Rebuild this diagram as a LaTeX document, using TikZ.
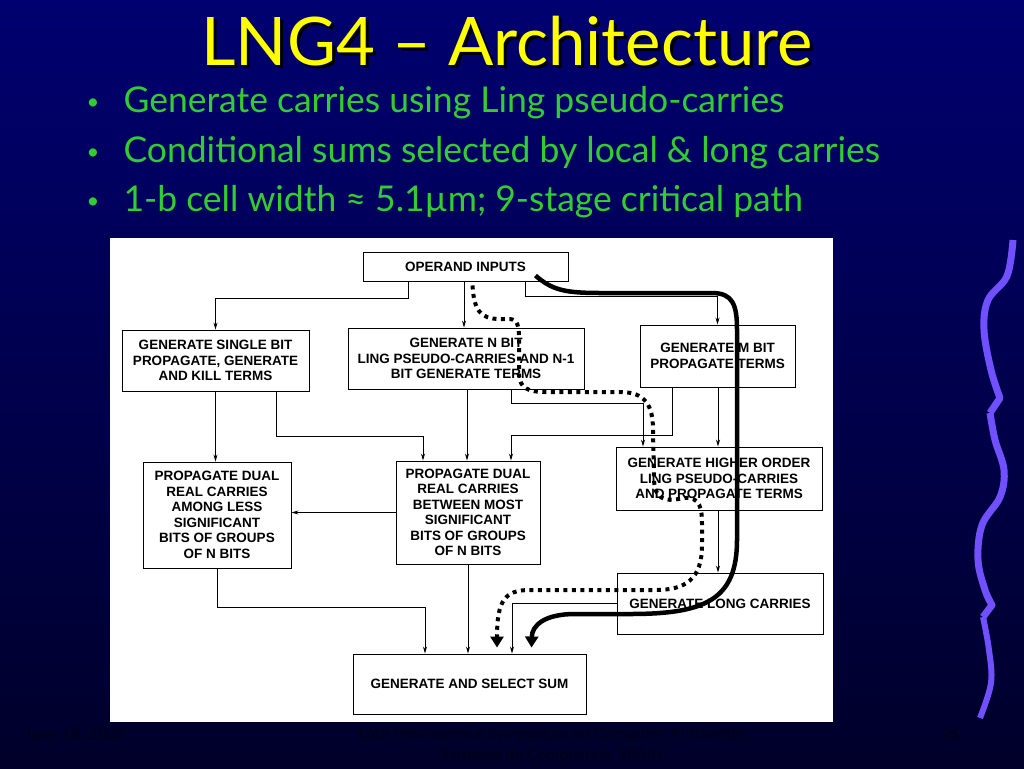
\documentclass[tikz,border=0pt]{standalone}
\usepackage{fontspec}
\setmainfont{Liberation Sans}
\newfontfamily\slidefont{Lato}
\usetikzlibrary{arrows.meta,calc}
\definecolor{bgtop}{RGB}{0,0,112}
\definecolor{bgbot}{RGB}{0,0,42}
\definecolor{titley}{RGB}{255,255,0}
\definecolor{bulletg}{RGB}{51,204,51}
\definecolor{footc}{RGB}{0,0,24}
\definecolor{squig}{RGB}{112,80,255}
\newcommand\diag{\fontsize{13.5}{15.5}\selectfont\bfseries}
\newcommand\bul{\slidefont\fontsize{35.5}{38}\selectfont}
\begin{document}
\begin{tikzpicture}[x=1pt,y=-1pt,
  blk/.style={draw,line width=0.9pt,align=center,font=\diag,inner sep=0pt},
  conn/.style={line width=0.9pt,-{Stealth[length=7pt,width=4pt]}},
  crit/.style={line width=4.5pt,-{Triangle[length=11pt,width=13pt]}},
  dots/.style={line width=4pt,dash pattern=on 4pt off 4.5pt,-{Triangle[length=11pt,width=13pt]}},
  bdot/.style={text=bulletg,font=\slidefont\fontsize{22}{24}\selectfont}]
\shade[top color=bgtop,bottom color=bgbot] (0,0) rectangle (1024,768);
\useasboundingbox (0,0) rectangle (1024,768);
\node[font=\slidefont\fontsize{67}{70}\selectfont,text=black] (titleshadow) at (510,44) {LNG4 – Architecture};
\node[font=\slidefont\fontsize{67}{70}\selectfont,text=titley] (title) at (507,41) {LNG4 – Architecture};
\node[bdot] (dot1) at (93,104) {•};
\node[bdot] (dot2) at (93,154) {•};
\node[bdot] (dot3) at (93,203) {•};
\node[text=bulletg,font=\bul,anchor=west] (b1) at (120,103) {Generate carries using Ling pseudo-carries};
\node[text=bulletg,font=\bul,anchor=west] (b2) at (120,153) {Conditional sums selected by local \& long carries};
\node[text=bulletg,font=\bul,anchor=west] (b3) at (120,202) {1-b cell width ≈ 5.1µm; 9-stage critical path};
\fill[white] (110,238) rectangle (833,722);
\node[blk,minimum width=205pt,minimum height=29pt] (opin) at (465.5,266.5) {OPERAND INPUTS};
\node[blk,minimum width=187pt,minimum height=61pt] (gsb) at (215.5,360.5) {GENERATE SINGLE BIT\\PROPAGATE, GENERATE\\AND KILL TERMS};
\node[blk,minimum width=236pt,minimum height=61pt] (gnb) at (466,358.5) {GENERATE N BIT\\LING PSEUDO-CARRIES AND N-1\\BIT GENERATE TERMS};
\node[blk,minimum width=155pt,minimum height=62pt] (gmb) at (717.5,356) {GENERATE M BIT\\PROPAGATE TERMS};
\node[blk,minimum width=148pt,minimum height=106pt] (pdl) at (217,515) {PROPAGATE DUAL\\REAL CARRIES\\AMONG LESS\\SIGNIFICANT\\BITS OF GROUPS\\OF N BITS};
\node[blk,minimum width=144pt,minimum height=103pt] (pdm) at (468,512.5) {PROPAGATE DUAL\\REAL CARRIES\\BETWEEN MOST\\SIGNIFICANT\\BITS OF GROUPS\\OF N BITS};
\node[blk,minimum width=206pt,minimum height=63pt] (gho) at (719,478.5) {GENERATE HIGHER ORDER\\LING PSEUDO-CARRIES\\AND PROPAGATE TERMS};
\node[blk,minimum width=206pt,minimum height=61pt] (glc) at (720,603.5) {GENERATE LONG CARRIES};
\node[blk,minimum width=233pt,minimum height=60pt] (gss) at (469.5,684) {GENERATE AND SELECT SUM};
\draw[conn] (opin.south -| 408,0) |- (0,298 -| gsb.north) -- (gsb.north);
\draw[conn] (opin.south -| 464,0) -- (gnb.north -| 464,0);
\draw[conn] (opin.south -| 525,0) |- (gmb.north |- 0,296) -- (gmb.north);
\draw[conn] (gsb.south) -- (gsb.south |- pdl.north);
\draw[conn] (gsb.south -| 276,0) |- (423,436) -- (pdm.north -| 423,0);
\draw[conn] (gnb.south -| 467,0) -- (pdm.north -| 467,0);
\draw[conn] (gmb.south -| 672,0) |- (511,435) -- (pdm.north -| 511,0);
\draw[conn] (gnb.south -| 511,0) |- (643,403) -- (gho.north -| 643,0);
\draw[conn] (gmb.south -| 718,0) -- (gho.north -| 718,0);
\draw[conn] (gho.south -| 718,0) -- (glc.north -| 718,0);
\draw[conn] (pdm.west) -- (pdm.west -| pdl.east);
\draw[conn] (pdm.south) -- (gss.north -| pdm.south);
\draw[conn] (pdl.south) |- (425,607) -- (gss.north -| 425,0);
\draw[conn] (glc.west) -| (gss.north -| 512,0);
\coordinate (solidstart) at ($(opin.north east)+(-33,24)$);
\coordinate (dotstart) at ($(opin.south)+(7,4)$);
\draw[crit] (solidstart) .. controls (552,290) and (565,293) .. (600,293) -- (712,293)
  .. controls (733,293) and (737,305) .. (737,330) -- (737,540)
  .. controls (737,600) and (705,614) .. (630,614) -- (575,614)
  .. controls (545,614) and (532,625) .. ($(gss.north)+(62,-6)$);
\draw[dots] (dotstart) .. controls (474,310) and (480,319) .. (500,319) -- (510,319)
  .. controls (518,320) and (519,326) .. (519,340) -- (519,375)
  .. controls (520,388) and (528,392) .. (545,392) -- (620,392)
  .. controls (645,392) and (653,405) .. (653,430) -- (654,480)
  .. controls (655,505) and (672,500) .. (685,498)
  .. controls (700,497) and (702,508) .. (702,525) -- (702,545)
  .. controls (702,580) and (685,590) .. (655,590) -- (530,590)
  .. controls (505,590) and (497,600) .. ($(gss.north)+(27.5,-6)$);
\draw[squig,line width=7pt,line join=round] plot[smooth,tension=0.6] coordinates {(1013,240) (1007,276) (988,300) (984,330) (991,370) (1000,398)} -- (990,413);
\draw[squig,line width=7pt,line join=round] plot[smooth,tension=0.6] coordinates {(990,413) (995,440) (1004,470) (1000,497) (982,525) (978,560) (985,590) (992,605)} -- (983,617);
\draw[squig,line width=6pt,line join=round] plot[smooth,tension=0.6] coordinates {(983,617) (989,650) (991,683) (980,718)};
\node[text=footc,font=\slidefont\fontsize{16}{18}\selectfont] (fdate) at (75,735) {June 18, 2003};
\node[text=footc,font=\slidefont\fontsize{16}{21}\selectfont,align=center] (fconf) at (552,746) {16th International Symposium on Computer Arithmetic,\\Santiago de Compostela, SPAIN};
\node[text=footc,font=\slidefont\fontsize{16}{18}\selectfont] (fpage) at (950,735) {26};
\end{tikzpicture}
\end{document}
